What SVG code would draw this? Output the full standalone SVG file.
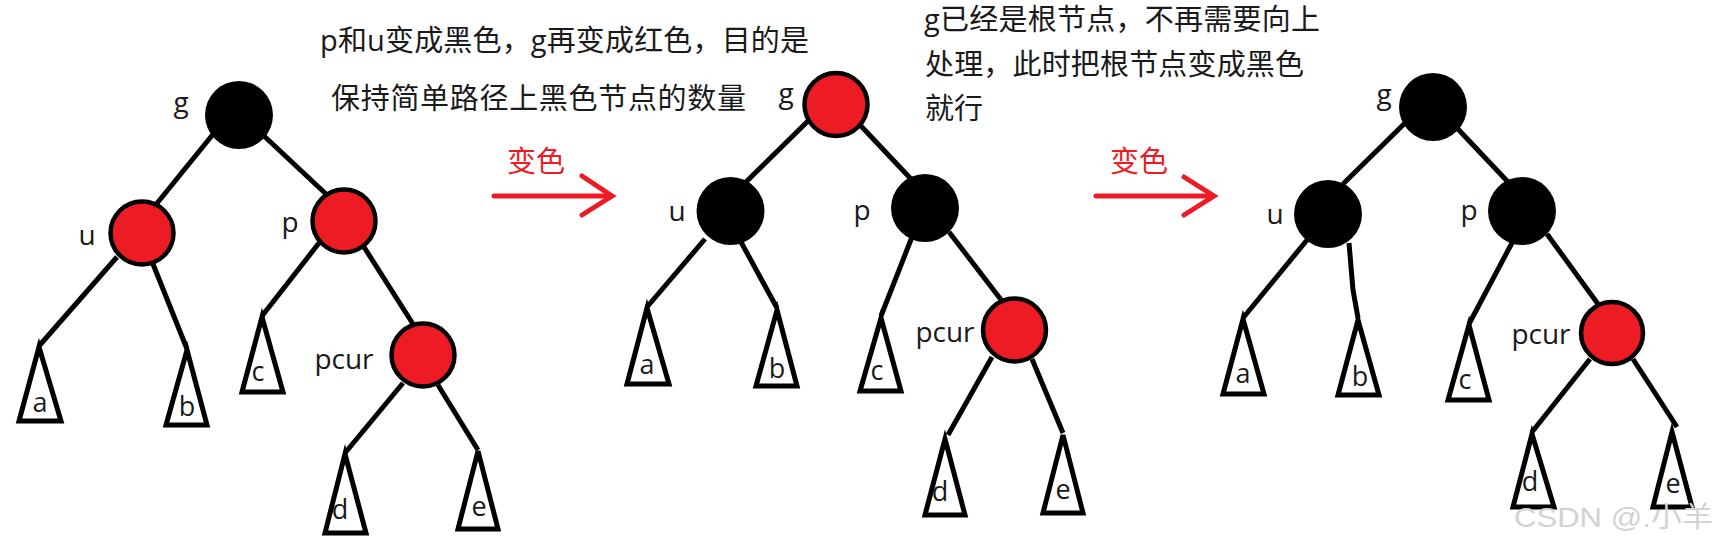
<svg xmlns="http://www.w3.org/2000/svg" width="1718" height="544" viewBox="0 0 1718 544">
<style>
.edge{stroke:#000;stroke-width:5;stroke-linecap:butt;fill:none}
.tri{fill:#fff;stroke:#000;stroke-width:5;stroke-linejoin:miter}
.blk{fill:#000}
.red{fill:#ED1C24;stroke:#000;stroke-width:4.5}
.lbl{font-family:"Open Sans","Noto Sans",sans-serif;font-size:28px;fill:#1a1a1a;text-anchor:middle}
.sub{font-family:"Open Sans","Noto Sans",sans-serif;font-size:27px;fill:#1a1a1a;text-anchor:middle}
.cjk{font-family:"Open Sans","Noto Sans CJK SC",sans-serif;font-size:29px;fill:#1a1a1a}
.rtxt{font-family:"Noto Sans CJK SC",sans-serif;font-size:29px;fill:#ED1C24}
.arrow{stroke:#ED1C24;stroke-width:5;fill:none;stroke-linecap:round;stroke-linejoin:miter}
.wm{font-family:"Liberation Sans","Noto Sans CJK SC",sans-serif;font-size:28px;fill:#d2d2d2}
</style>
<rect width="1718" height="544" fill="#fff"/>

<!-- Captions -->
<g id="caption1">
<text class="cjk" x="320" y="51" textLength="489" lengthAdjust="spacing">p和u变成黑色，g再变成红色，目的是</text>
<text class="cjk" x="331" y="109" textLength="415" lengthAdjust="spacing">保持简单路径上黑色节点的数量</text>
</g>
<g id="caption2">
<text class="cjk" x="924" y="30" textLength="396" lengthAdjust="spacing">g已经是根节点，不再需要向上</text>
<text class="cjk" x="925" y="75" textLength="379" lengthAdjust="spacing">处理，此时把根节点变成黑色</text>
<text class="cjk" x="925" y="119" textLength="58" lengthAdjust="spacing">就行</text>
</g>

<!-- Transition arrows -->
<g id="arrow1">
<text class="rtxt" x="507" y="172">变色</text>
<line class="arrow" x1="494" y1="196" x2="611" y2="196"/>
<polyline class="arrow" points="582,176 612,196 582,215"/>
</g>
<g id="arrow2">
<text class="rtxt" x="1110" y="172">变色</text>
<line class="arrow" x1="1096" y1="196" x2="1213" y2="196"/>
<polyline class="arrow" points="1184,177 1214,196 1184,215"/>
</g>

<!-- Connectors -->
<g id="connectors">
<!-- tree 1 -->
<line class="edge" x1="214" y1="133" x2="154" y2="207"/>
<line class="edge" x1="263" y1="135" x2="326" y2="194"/>
<line class="edge" x1="117" y1="257" x2="39" y2="346"/>
<line class="edge" x1="151" y1="259" x2="187" y2="349"/>
<line class="edge" x1="319" y1="243" x2="262" y2="316"/>
<line class="edge" x1="364" y1="247" x2="413" y2="324"/>
<line class="edge" x1="403" y1="383" x2="345" y2="453"/>
<line class="edge" x1="438" y1="385" x2="478" y2="450"/>
<!-- tree 2 -->
<line class="edge" x1="810" y1="119" x2="745" y2="183"/>
<line class="edge" x1="861" y1="126" x2="911" y2="179"/>
<line class="edge" x1="705" y1="239" x2="647" y2="307"/>
<line class="edge" x1="741" y1="242" x2="777" y2="308"/>
<line class="edge" x1="912" y1="237" x2="881" y2="316"/>
<line class="edge" x1="949" y1="232" x2="1002" y2="301"/>
<line class="edge" x1="992" y1="357" x2="948" y2="435"/>
<line class="edge" x1="1032" y1="359" x2="1063" y2="433"/>
<!-- tree 3 -->
<line class="edge" x1="1405" y1="123" x2="1343" y2="184"/>
<line class="edge" x1="1457" y1="128" x2="1508" y2="182"/>
<line class="edge" x1="1307" y1="240" x2="1243" y2="318"/>
<polyline class="edge" points="1349,243 1353,290 1358,318"/>
<line class="edge" x1="1513" y1="241" x2="1469" y2="324"/>
<line class="edge" x1="1547" y1="234" x2="1598" y2="304"/>
<line class="edge" x1="1590" y1="359" x2="1532" y2="432"/>
<line class="edge" x1="1633" y1="359" x2="1677" y2="427"/>
</g>

<!-- Tree 1 nodes -->
<g id="t1-g"><circle class="blk" cx="239" cy="115" r="34"/><text class="lbl" x="181" y="112">g</text></g>
<g id="t1-u"><circle class="red" cx="142" cy="233" r="31.5"/><text class="lbl" x="87" y="245">u</text></g>
<g id="t1-p"><circle class="red" cx="344" cy="221" r="31.5"/><text class="lbl" x="290" y="232">p</text></g>
<g id="t1-pcur"><circle class="red" cx="423" cy="355" r="31.5"/><text class="lbl" x="344" y="369">pcur</text></g>
<g id="t1-a"><polygon class="tri" points="39,347 61,421 19,421"/><text class="sub" x="40" y="412">a</text></g>
<g id="t1-b"><polygon class="tri" points="187,350 207,425 166,425"/><text class="sub" x="187" y="416">b</text></g>
<g id="t1-c"><polygon class="tri" points="262,317 283,392 242,392"/><text class="sub" x="258" y="381">c</text></g>
<g id="t1-d"><polygon class="tri" points="345,454 366,533 325,533"/><text class="sub" x="340" y="519">d</text></g>
<g id="t1-e"><polygon class="tri" points="478,451 498,529 458,529"/><text class="sub" x="479" y="516">e</text></g>

<!-- Tree 2 nodes -->
<g id="t2-g"><circle class="red" cx="836" cy="104.5" r="31.5"/><text class="lbl" x="786" y="103">g</text></g>
<g id="t2-u"><circle class="blk" cx="730.5" cy="211" r="34"/><text class="lbl" x="677" y="221">u</text></g>
<g id="t2-p"><circle class="blk" cx="925" cy="208" r="34"/><text class="lbl" x="862" y="220">p</text></g>
<g id="t2-pcur"><circle class="red" cx="1014.5" cy="330" r="31.5"/><text class="lbl" x="945" y="342">pcur</text></g>
<g id="t2-a"><polygon class="tri" points="647,308 669,384 627,384"/><text class="sub" x="647" y="374">a</text></g>
<g id="t2-b"><polygon class="tri" points="777,310 797,386 756,386"/><text class="sub" x="777" y="378">b</text></g>
<g id="t2-c"><polygon class="tri" points="881,318 901,391 860,391"/><text class="sub" x="877" y="380">c</text></g>
<g id="t2-d"><polygon class="tri" points="945,439 965,515 925,515"/><text class="sub" x="940" y="501">d</text></g>
<g id="t2-e"><polygon class="tri" points="1063,435 1083,513 1043,513"/><text class="sub" x="1063" y="499">e</text></g>

<!-- Tree 3 nodes -->
<g id="t3-g"><circle class="blk" cx="1433" cy="107" r="34"/><text class="lbl" x="1384" y="104">g</text></g>
<g id="t3-u"><circle class="blk" cx="1328" cy="214" r="34"/><text class="lbl" x="1275" y="224">u</text></g>
<g id="t3-p"><circle class="blk" cx="1522" cy="211" r="34"/><text class="lbl" x="1469" y="220">p</text></g>
<g id="t3-pcur"><circle class="red" cx="1612" cy="333" r="31"/><text class="lbl" x="1541" y="344">pcur</text></g>
<g id="t3-a"><polygon class="tri" points="1243,319 1264,394 1223,394"/><text class="sub" x="1243" y="383">a</text></g>
<g id="t3-b"><polygon class="tri" points="1358,320 1379,395 1338,395"/><text class="sub" x="1360" y="386">b</text></g>
<g id="t3-c"><polygon class="tri" points="1469,325 1489,400 1448,400"/><text class="sub" x="1465" y="389">c</text></g>
<g id="t3-d"><polygon class="tri" points="1532,434 1554,507 1513,507"/><text class="sub" x="1530" y="491">d</text></g>
<g id="t3-e"><polygon class="tri" points="1672,432 1692,507 1653,507"/><text class="sub" x="1673" y="493">e</text></g>

<text class="wm" x="1514" y="527" textLength="199" lengthAdjust="spacingAndGlyphs">CSDN @.小羊</text>
</svg>
